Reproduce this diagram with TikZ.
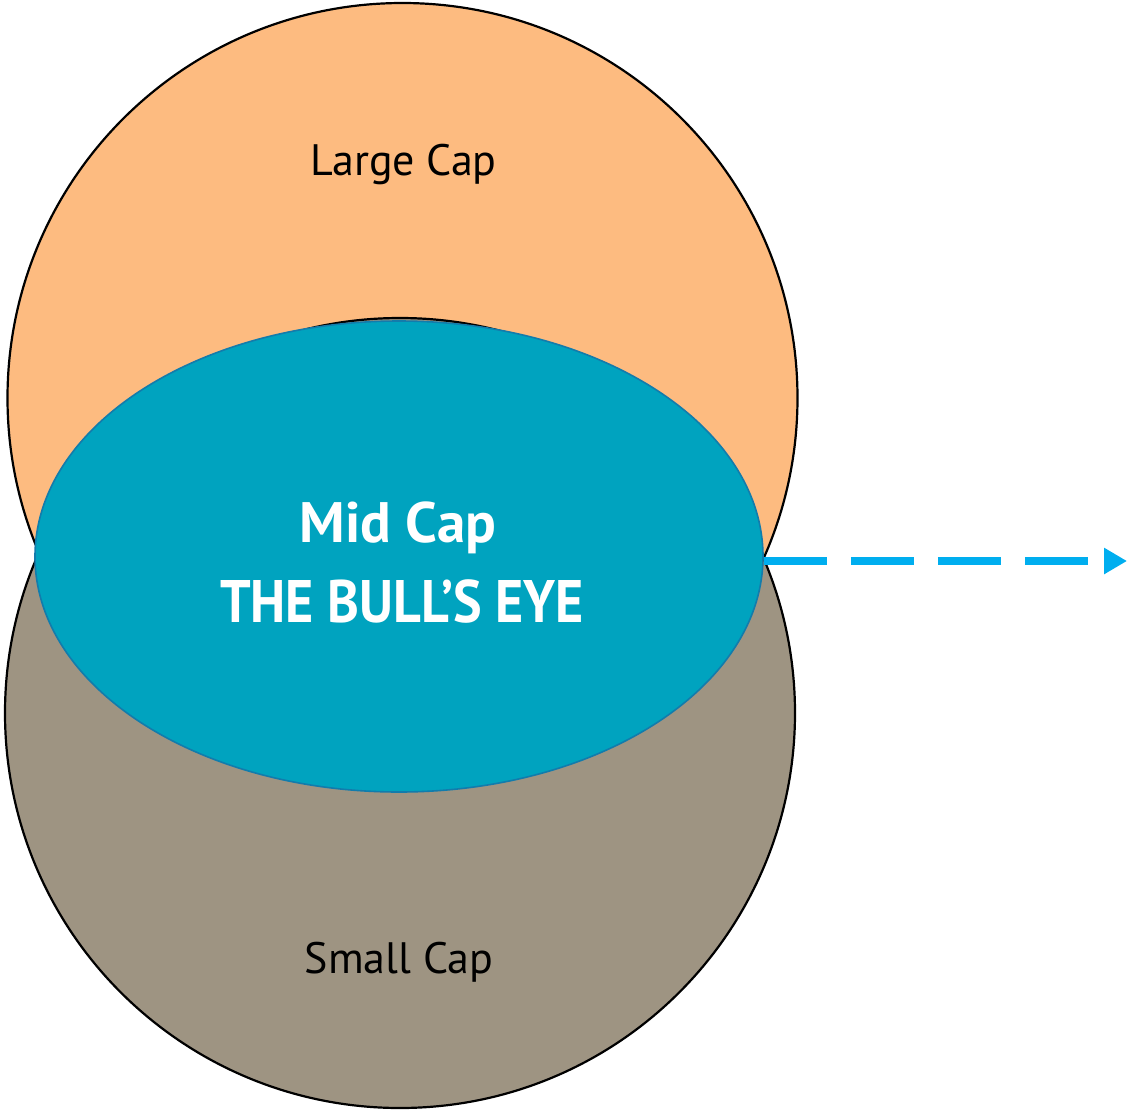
\documentclass[tikz,border=0pt]{standalone}
\usepackage{fontspec}
\setmainfont{PT Sans}
\newfontfamily\narrowsans{PT Sans}[FakeStretch=0.9]
\usetikzlibrary{shapes.geometric,arrows.meta}
\definecolor{largecap}{RGB}{253,187,128}
\definecolor{smallcap}{RGB}{158,148,130}
\definecolor{midcap}{RGB}{0,163,191}
\definecolor{midedge}{RGB}{18,124,172}
\definecolor{pointer}{RGB}{0,174,239}
\tikzset{
  capcircle/.style={circle, draw=black, line width=2.2pt, inner sep=0pt, minimum size=790pt},
  bullseye/.style={ellipse, draw=midedge, line width=1.6pt, fill=midcap, inner sep=0pt,
                   minimum width=728pt, minimum height=471pt},
  caplabel/.style={anchor=base, font=\fontsize{44}{50}\selectfont, text=black},
  eyelabel/.style={anchor=base, font=\bfseries\fontsize{57}{64}\selectfont, text=white},
  pointerline/.style={draw=pointer, line width=8.5pt, dash pattern=on 63pt off 24pt,
                      -{Triangle[length=23pt,width=25pt]}}
}
\begin{document}
\begin{tikzpicture}[x=1pt,y=-1pt]
  \useasboundingbox (0,0) rectangle (1130,1111);
  % the three market-cap bands
  \node[capcircle, fill=largecap] (large) at (402.5,398) {};
  \node[capcircle, fill=smallcap] (small) at (400,713) {};
  \node[bullseye] (mid) at (399,556.5) {};
  % labels
  \node[caplabel] (largetext) at (403.5,175) {Large Cap};
  \node[caplabel] (smalltext) at (399,973) {Small Cap};
  \node[eyelabel] (midtext) at (398,542) {Mid Cap};
  \node[eyelabel, font=\narrowsans\bfseries\fontsize{60}{68}\selectfont] (eyetext) at (402,622) {THE BULL’S EYE};
  % pointer to the right
  \coordinate (tip) at (1127,561);
  \draw[pointerline] ([yshift=-4.5pt]mid.east) -- (tip);
\end{tikzpicture}
\end{document}
